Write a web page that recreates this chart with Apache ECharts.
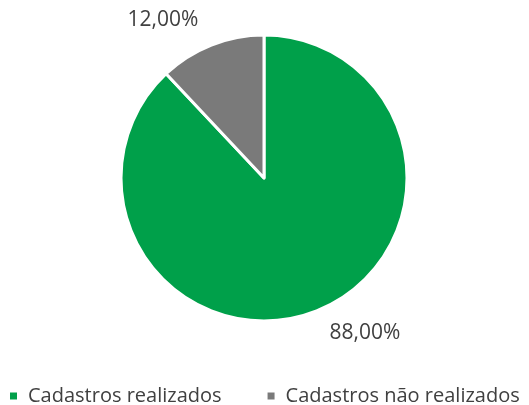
<!DOCTYPE html>
<html><head><meta charset="utf-8">
<script src="https://cdn.jsdelivr.net/npm/echarts@6/dist/echarts.min.js"></script>
<style>html,body{margin:0;padding:0;background:#fff}#c{width:529px;height:405px}</style>
</head><body><div id="c"></div>
<script>
var categories = ['Cadastros realizados', 'Cadastros não realizados'];
var values = [88, 12];
var colors = ['#00A04A', '#7A7A7A'];

var chart = echarts.init(document.getElementById('c'), null, {renderer: 'canvas'});
var cx = 264, cy = 178;
var labelOffsets = [[101, 155], [-101, -158]];
chart.setOption({
  animation: false,
  textStyle: {fontFamily: 'Open Sans'},
  legend: {
    top: 386,
    left: 8,
    padding: 0,
    itemWidth: 9, itemHeight: 9,
    itemGap: 44,
    icon: 'rect',
    textStyle: {fontSize: 20, color: '#404040', fontFamily: 'Open Sans', padding: [0, 0, 0, 5]},
    data: categories
  },
  series: [{
    type: 'pie',
    center: [cx, cy],
    radius: [0, 143],
    startAngle: 90,
    clockwise: true,
    itemStyle: {borderColor: '#fff', borderWidth: 3},
    label: {
      show: true, position: 'outside',
      formatter: function(p){ return p.value.toFixed(2).replace('.', ',') + '%'; },
      fontSize: 21, color: '#404040', fontFamily: 'Open Sans'
    },
    labelLine: {show: false},
    labelLayout: function(p){
      var o = labelOffsets[p.dataIndex];
      return {x: cx + o[0], y: cy + o[1], align: 'center', verticalAlign: 'middle'};
    },
    data: categories.map(function(n, i){ return {name: n, value: values[i], itemStyle: {color: colors[i]}}; })
  }]
});
</script></body></html>
